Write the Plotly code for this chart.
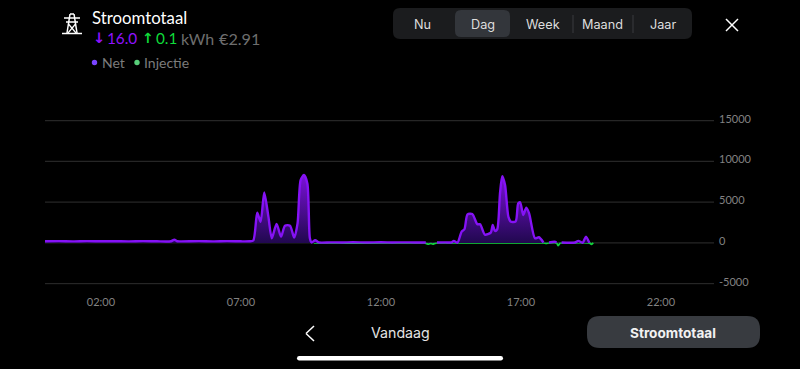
import plotly.graph_objects as go

W, H = 800, 369

# ---- data ----
net_hours = [0, 0.5, 1, 1.5, 2, 2.5, 3, 3.5, 4, 4.5, 4.62, 4.72, 4.85, 5.5, 6, 6.5, 7, 7.3, 7.44,
             7.58, 7.70, 7.83, 7.98, 8.10, 8.27, 8.43, 8.57, 8.75, 8.90, 9.02, 9.13, 9.25, 9.37,
             9.46, 9.52, 9.65, 9.78, 10.2, 10.6, 11, 11.5, 12, 12.4, 12.8, 13.2, 13.6,
             13.7, 13.8, 13.9, 14.0, 14.3, 14.52, 14.6, 14.73, 14.88, 14.98, 15.09, 15.26, 15.44, 15.54,
             15.71, 15.92, 15.99, 16.07, 16.15, 16.25, 16.33, 16.43, 16.55, 16.64, 16.81, 16.9,
             16.97, 17.08, 17.19, 17.29, 17.5, 17.64, 17.8, 17.85, 18.0, 18.2, 18.27, 18.4, 18.45,
             18.93, 19.05, 19.2, 19.32, 19.44, 19.5]
net_watts = [200, 220, 190, 230, 200, 210, 190, 230, 200, 210, 400, 210, 190, 220, 190, 230, 200, 210, 300,
             3700, 2600, 6200, 3200, 570, 2330, 780, 2120, 2120, 650, 2400, 7700, 8330, 7300,
             570, 60, 330, 60, 70, 60, 80, 60, 80, 60, 70, 60, 60,
             None, None, None, 60, 70, 70, 250, 30, 1390, 1680, 3500, 3550, 2290, 2300,
             1020, 1260, 2200, 1470, 1670, 6080, 8200, 7100, 3200, 2600, 2650, 4850,
             4980, 3430, 4330, 3630, 570, 700, 60, None, 60, 150, 60, None, 60,
             60, 250, 20, 780, 20, None]
inj_hours = [9.6, 10.5, 11, 12, 13, 13.55, 13.7, 13.78, 13.85, 13.93, 14.0, 14.5, 17.8, 17.9, 18.0,
             18.27, 18.33, 18.4, 18.5, 19.44, 19.52, 19.58]
inj_watts = [0, 0, -20, 0, 0, 0, -150, -60, -150, -40, 0, 0, 0, -60, 0,
             0, -330, 0, 0, 0, -170, 0]
x_tick_hours = [2, 7, 12, 17, 22]
x_tick_labels = ["02:00", "07:00", "12:00", "17:00", "22:00"]
y_ticks = [-5000, 0, 5000, 10000, 15000]
y_tick_labels = ["-5000", "0", "5000", "10000", "15000"]
periods = ["Nu", "Dag", "Week", "Maand", "Jaar"]

PURPLE = "#8512f5"
GREEN = "#10d63c"


def px(x):
    return x / W


def py(y):
    return 1 - y / H


def rrect(x0, y0, x1, y1, r, fill):
    a, b, c, d = px(x0), py(y0), px(x1), py(y1)
    rx, ry = r / W, r / H
    p = (f"M{a+rx},{b} L{c-rx},{b} Q{c},{b} {c},{b-ry} L{c},{d+ry} Q{c},{d} {c-rx},{d} "
         f"L{a+rx},{d} Q{a},{d} {a},{d+ry} L{a},{b-ry} Q{a},{b} {a+rx},{b} Z")
    return dict(type="path", xref="paper", yref="paper", path=p, fillcolor=fill, line_width=0, layer="below")


def seg(x0, y0, x1, y1, color="#ffffff", w=1.5):
    return dict(type="line", xref="paper", yref="paper", x0=px(x0), y0=py(y0), x1=px(x1), y1=py(y1),
                line=dict(color=color, width=w))


def dot(cx, cy, r, color):
    return dict(type="circle", xref="paper", yref="paper", x0=px(cx - r), x1=px(cx + r),
                y0=py(cy + r), y1=py(cy - r), fillcolor=color, line_width=0)


def txt(x, y, s, size, color, font="Lato", anchor="left"):
    return dict(xref="paper", yref="paper", x=px(x), y=py(y), text=s, showarrow=False,
                xanchor=anchor, yanchor="middle",
                font=dict(family=font, size=size, color=color))


fig = go.Figure()
fig.add_trace(go.Scatter(x=inj_hours, y=inj_watts, name="Injectie", mode="lines",
                         line=dict(color=GREEN, width=1.8, shape="spline", smoothing=0.6),
                         hoverinfo="skip"))
fig.add_trace(go.Scatter(x=net_hours, y=net_watts, name="Net", mode="lines", fill="tozeroy",
                         line=dict(color=PURPLE, width=2.4, shape="spline", smoothing=0.7),
                         fillgradient=dict(type="vertical",
                                           colorscale=[[0, "#21084f"], [1, "#7a12d8"]]),
                         hoverinfo="skip"))

shapes = [
    rrect(393, 8, 692, 39, 7, "#1b1c1e"),
    rrect(455, 10, 510, 37, 6, "#33363b"),
    seg(573, 15, 573, 33, "#3a3b3e", 1),
    seg(633, 15, 633, 33, "#3a3b3e", 1),
    seg(726, 19, 738, 31), seg(726, 31, 738, 19),
    seg(314, 326, 306, 333.5), seg(306, 333.5, 314, 341),
    rrect(587, 316, 760, 348, 13, "#383b40"),
    rrect(297, 356, 503, 360.5, 2.2, "#ffffff"),
    # pylon icon
    seg(62, 33.5, 82, 33.5), seg(64, 18, 80, 18), seg(66, 22, 78, 22),
    seg(70, 14, 67, 33), seg(74, 14, 77, 33), seg(70, 14, 74, 14),
    seg(68.5, 24, 76, 33, w=1.2), seg(75.5, 24, 68, 33, w=1.2),
    dot(94.5, 62.5, 2.7, "#7a44ff"),
    dot(137, 62.5, 2.7, "#58cf7a"),
]
# horizontal grid lines, tied to the y axis values
for v in y_ticks:
    shapes.append(dict(type="line", xref="x domain", yref="y", x0=0, x1=1, y0=v, y1=v,
                       line=dict(color="#262626", width=1.2), layer="below"))

annotations = [
    txt(90, 17.5, "Stroomtotaal", 16.8, "#ffffff"),
    txt(90.5, 38.5, "<b>↓</b>", 14.5, "#9013fe", "DejaVu Sans"),
    txt(104.5, 38, "16.0", 15.3, "#9013fe"),
    txt(139.5, 38, "<b>↑</b>", 14, "#0fdc3a", "DejaVu Sans"),
    txt(153.5, 38, "0.1", 15.3, "#0fdc3a"),
    txt(178.5, 38, "kWh", 16, "#6e6e6e"),
    txt(216.5, 38, "€2.91", 16.2, "#6e6e6e"),
    txt(100, 62.5, "Net", 14, "#7c7c7c"),
    txt(142, 62.5, "Injectie", 14, "#7c7c7c"),
    txt(400, 333, "Vandaag", 14.2, "#e4e4e4", "Inter", "center"),
    txt(673, 333, "<b>Stroomtotaal</b>", 13.6, "#f2f2f2", "Inter", "center"),
]
for label, cx in zip(periods, [423, 483, 543, 603, 663]):
    annotations.append(txt(cx - 0.5, 24, label, 12.7, "#dddddd", "Inter", "center"))

fig.update_layout(
    width=W, height=H, margin=dict(l=0, r=0, t=0, b=0, autoexpand=False),
    paper_bgcolor="#000000", plot_bgcolor="#000000", showlegend=False,
    shapes=shapes, annotations=annotations,
    xaxis=dict(domain=[px(45), px(714)], range=[0, 669 / 28], tickmode="array",
               tickvals=x_tick_hours, ticktext=x_tick_labels, showgrid=False, zeroline=False,
               showline=False, ticks="", tickfont=dict(family="Lato", size=11, color="#828282"),
               ticklabelstandoff=9, fixedrange=True),
    yaxis=dict(domain=[py(284.7), py(119.7)], range=[-5122, 15122], side="right", tickmode="array",
               tickvals=y_ticks, ticktext=y_tick_labels, showgrid=False,
               zeroline=False, showline=False, ticks="", ticklabelshift=-2,
               tickfont=dict(family="Lato", size=11, color="#828282"), ticklabelstandoff=4,
               fixedrange=True),
)

fig.write_html("out.html", config=dict(displayModeBar=False),
               post_script="document.body.style.margin='0';document.body.style.background='#000';")
